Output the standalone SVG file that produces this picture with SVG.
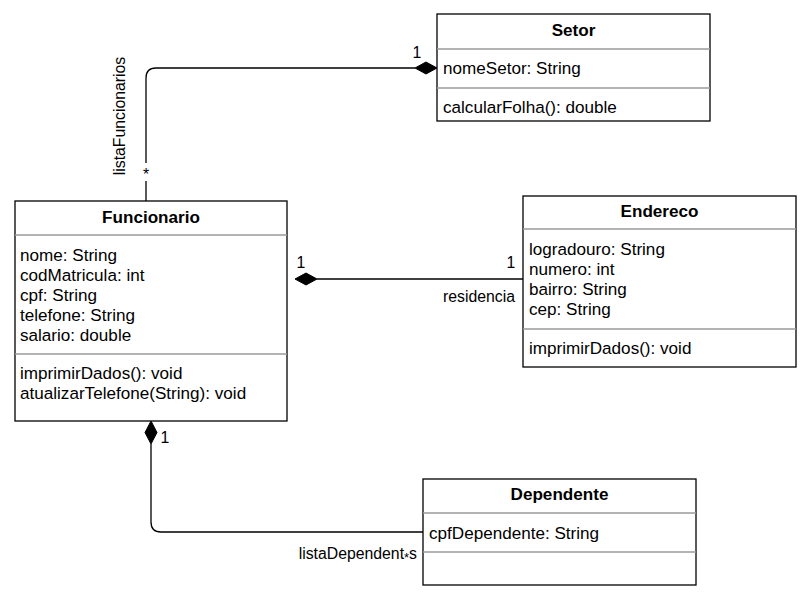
<svg xmlns="http://www.w3.org/2000/svg" width="811" height="600" viewBox="0 0 811 600">
<style>
.box{fill:#fff;stroke:#000;stroke-width:1.3}
.div{stroke:#9a9a9a;stroke-width:1.3}
.t{font-family:"Liberation Sans",Arial,sans-serif;font-size:17.1px;fill:#000}
.b{font-weight:bold}
.lbl{font-family:"Liberation Sans",Arial,sans-serif;font-size:15.8px;fill:#000}
.c{fill:none;stroke:#000;stroke-width:1.3}
.dia{fill:#000;stroke:#000;stroke-width:1}
</style>
<rect width="811" height="600" fill="#fff"/>
<g id="connectors">
  <path class="c" d="M146,201 V78 Q146,68 156,68 H415"/>
  <polygon class="dia" points="437,68 426,62 415,68 426,74"/>
  <rect x="140" y="163" width="12" height="18" fill="#fff"/>
  <text class="lbl" x="146" y="180" text-anchor="middle">*</text>
  <text class="lbl" x="417" y="58" text-anchor="middle">1</text>
  <text class="lbl" transform="translate(125,116) rotate(-90)" text-anchor="middle">listaFuncionarios</text>

  <path class="c" d="M317,279 H523"/>
  <polygon class="dia" points="295,279 306,273 317,279 306,285"/>
  <text class="lbl" x="301" y="268" text-anchor="middle">1</text>
  <text class="lbl" x="511" y="268" text-anchor="middle">1</text>
  <text class="lbl" x="515" y="302" text-anchor="end">residencia</text>

  <path class="c" d="M151,444 V522 Q151,532 161,532 H423"/>
  <polygon class="dia" points="151,421 145,432.5 151,444 157,432.5"/>
  <text class="lbl" x="165" y="443" text-anchor="middle">1</text>
  <text class="lbl" x="417" y="559" text-anchor="end">listaDependent<tspan font-size="13" dy="2.5">*</tspan><tspan dy="-2.5">s</tspan></text>
</g>
<g id="Setor">
  <rect class="box" x="437" y="14" width="273" height="107"/>
  <line class="div" x1="437" y1="49" x2="710" y2="49"/>
  <line class="div" x1="437" y1="88" x2="710" y2="88"/>
  <text class="t b" x="573.5" y="36" text-anchor="middle">Setor</text>
  <text class="t" x="443" y="74">nomeSetor: String</text>
  <text class="t" x="443" y="113">calcularFolha(): double</text>
</g>
<g id="Funcionario">
  <rect class="box" x="15" y="201" width="272" height="220"/>
  <line class="div" x1="15" y1="235" x2="287" y2="235"/>
  <line class="div" x1="15" y1="354" x2="287" y2="354"/>
  <text class="t b" x="151" y="223" text-anchor="middle">Funcionario</text>
  <text class="t" x="20" y="261">nome: String</text>
  <text class="t" x="20" y="281">codMatricula: int</text>
  <text class="t" x="20" y="301">cpf: String</text>
  <text class="t" x="20" y="321">telefone: String</text>
  <text class="t" x="20" y="341">salario: double</text>
  <text class="t" x="20" y="379">imprimirDados(): void</text>
  <text class="t" x="20" y="399">atualizarTelefone(String): void</text>
</g>
<g id="Endereco">
  <rect class="box" x="523" y="196" width="273" height="171"/>
  <line class="div" x1="523" y1="229" x2="796" y2="229"/>
  <line class="div" x1="523" y1="329" x2="796" y2="329"/>
  <text class="t b" x="659.5" y="217" text-anchor="middle">Endereco</text>
  <text class="t" x="529" y="255">logradouro: String</text>
  <text class="t" x="529" y="275">numero: int</text>
  <text class="t" x="529" y="295">bairro: String</text>
  <text class="t" x="529" y="315">cep: String</text>
  <text class="t" x="529" y="354">imprimirDados(): void</text>
</g>
<g id="Dependente">
  <rect class="box" x="423" y="479" width="273" height="106"/>
  <line class="div" x1="423" y1="513" x2="696" y2="513"/>
  <line class="div" x1="423" y1="552" x2="696" y2="552"/>
  <text class="t b" x="559.5" y="500" text-anchor="middle">Dependente</text>
  <text class="t" x="429" y="539">cpfDependente: String</text>
</g>
</svg>
